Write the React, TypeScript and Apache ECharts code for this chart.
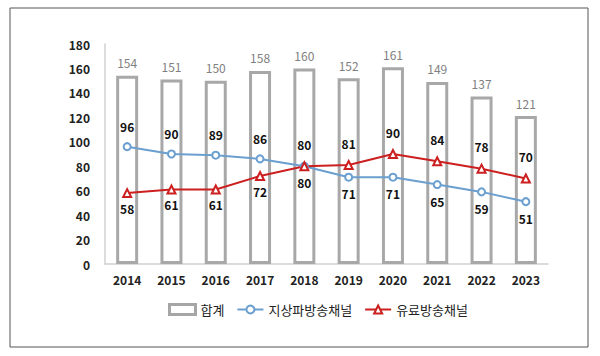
import React, { useEffect, useRef } from "react";
import * as echarts from "echarts";

const years = ["2014", "2015", "2016", "2017", "2018", "2019", "2020", "2021", "2022", "2023"];
const totals = [154, 151, 150, 158, 160, 152, 161, 149, 137, 121];
const terrestrial = [96, 90, 89, 86, 80, 71, 71, 65, 59, 51];
const paid = [58, 61, 61, 72, 80, 81, 90, 84, 78, 70];
const terrestrialLabelPos = ["top", "top", "top", "top", "bottom", "bottom", "bottom", "bottom", "bottom", "bottom"];
const paidLabelPos = ["bottom", "bottom", "bottom", "bottom", "top", "top", "top", "top", "top", "top"];

const FONT = "'Noto Sans CJK KR', 'Noto Sans', sans-serif";

export default function App() {
  const ref = useRef<HTMLDivElement>(null);
  useEffect(() => {
    const chart = echarts.init(ref.current!, undefined, { renderer: "svg" });
    chart.setOption({
      animation: false,
      textStyle: { fontFamily: FONT },
      graphic: [
        {
          type: "rect",
          shape: { x: 10, y: 8, width: 578, height: 339 },
          style: { fill: "none", stroke: "#555", lineWidth: 1 },
        },
      ],
      grid: { left: 105, right: 52, top: 44, bottom: 92 },
      legend: {
        top: 298,
        left: 163,
        itemGap: 12,
        itemWidth: 26,
        itemHeight: 10,
        textStyle: { fontSize: 13, color: "#222", fontFamily: FONT },
        data: [
          { name: "합계", icon: "rect", itemStyle: { color: "#fff", borderColor: "#a6a6a6", borderWidth: 3 } },
          { name: "지상파방송채널" },
          { name: "유료방송채널" },
        ],
      },
      xAxis: {
        type: "category",
        data: years,
        axisLine: { lineStyle: { color: "#d0d0d0", width: 1.5 } },
        axisTick: { show: false },
        axisLabel: { color: "#222", fontWeight: "bold", fontSize: 12, margin: 9 },
      },
      yAxis: {
        type: "value",
        min: 0,
        max: 180,
        interval: 20,
        splitLine: { show: false },
        axisLine: { show: true, lineStyle: { color: "#d0d0d0", width: 1.5 } },
        axisLabel: { color: "#222", fontWeight: "bold", fontSize: 12, margin: 15 },
      },
      series: [
        {
          name: "합계",
          type: "bar",
          data: totals,
          barWidth: 22,
          itemStyle: { color: "#fff", borderColor: "#a8a8a8", borderWidth: 3 },
          label: { show: true, position: "top", distance: 7, color: "#808080", fontSize: 12 },
        },
        {
          name: "지상파방송채널",
          type: "line",
          data: terrestrial.map((v, i) => ({
            value: v,
            label: { position: terrestrialLabelPos[i], distance: terrestrialLabelPos[i] === "top" ? 10 : 6 },
          })),
          symbol: "emptyCircle",
          symbolSize: 7,
          lineStyle: { color: "#6a9fd0", width: 2 },
          itemStyle: { color: "#6a9fd0", borderWidth: 2 },
          label: { show: true, color: "#111", fontSize: 12, fontWeight: "bold" },
        },
        {
          name: "유료방송채널",
          type: "line",
          data: paid.map((v, i) => ({
            value: v,
            label: { position: paidLabelPos[i], distance: paidLabelPos[i] === "top" ? 11 : 4 },
          })),
          symbol: "emptyTriangle",
          symbolSize: 8,
          lineStyle: { color: "#cc1f1f", width: 2 },
          itemStyle: { color: "#cc1f1f", borderWidth: 2 },
          label: { show: true, color: "#111", fontSize: 12, fontWeight: "bold" },
        },
      ],
    });
    return () => chart.dispose();
  }, []);
  return (
    <div
      ref={ref}
      style={{ position: "fixed", left: 0, top: 0, width: 600, height: 356, background: "#fff" }}
    />
  );
}
